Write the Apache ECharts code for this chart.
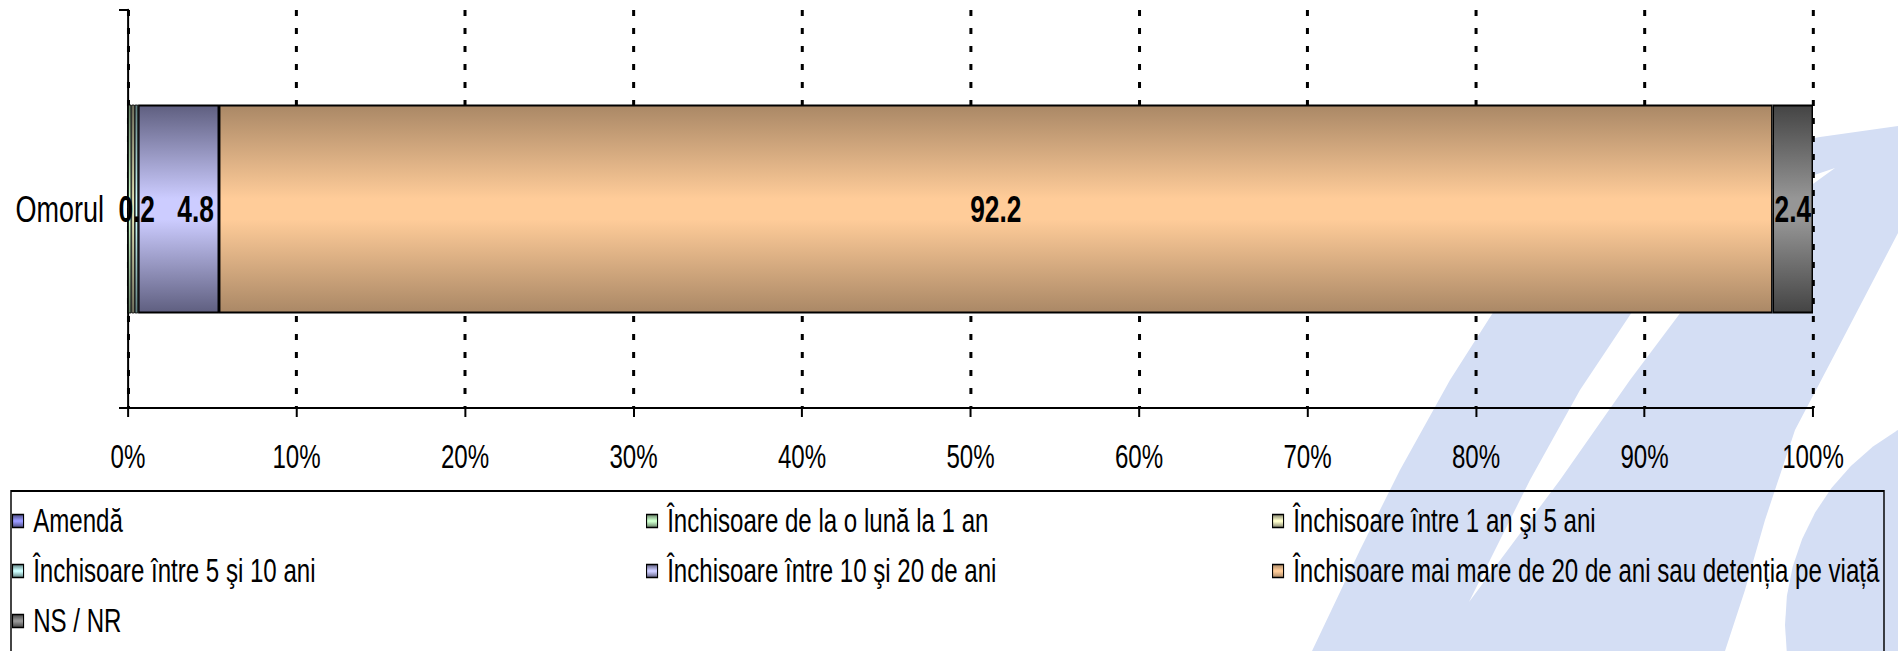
<!DOCTYPE html>
<html>
<head>
<meta charset="utf-8">
<script src="https://cdn.jsdelivr.net/npm/echarts@6/dist/echarts.min.js"></script>
<style>
  html, body { margin: 0; padding: 0; background: #fff; overflow: hidden; }
  #wrap { width: 1898px; height: 651px; overflow: hidden; }
  /* textul din original e ingustat (Arial Narrow) - desenam mai lat si comprimam pe orizontala */
  #chart { height: 651px; transform-origin: 0 0; }
</style>
</head>
<body>
<div id="wrap"><div id="chart"></div></div>
<script>
// date (procente)
const categories = ['Omorul'];
const seriesNames = [
  'Amendă',
  'Închisoare de la o lună la 1 an',
  'Închisoare între 1 an şi 5 ani',
  'Închisoare între 5 şi 10 ani',
  'Închisoare între 10 şi 20 de ani',
  'Închisoare mai mare de 20 de ani sau detenția pe viață',
  'NS / NR'
];
const amenda = [0];
const lunaLa1An = [0.2];
const intre1si5 = [0.2];
const intre5si10 = [0.2];
const intre10si20 = [4.8];
const peste20 = [92.2];
const nsNr = [2.4];
const xTicks = [0, 10, 20, 30, 40, 50, 60, 70, 80, 90, 100];

const FONT = "'Liberation Sans', Arial, sans-serif";
const S = 0.73;              // factor de ingustare
function X(x) { return x / S; }

const el = document.getElementById('chart');
el.style.width = Math.round(X(1898)) + 'px';
el.style.transform = 'scaleX(' + S + ')';

// culori: [margine, mijloc]
const shades = [
  ['#4c4c80', '#9999ff'],
  ['#668066', '#ccffcc'],
  ['#80806a', '#ffffcc'],
  ['#5f8080', '#ccffff'],
  ['#5f5f80', '#ccccff'],
  ['#aa8866', '#ffcc99'],
  ['#444444', '#969696']
];

function grad(c) {
  return new echarts.graphic.LinearGradient(0, 0, 0, 1, [
    {offset: 0, color: c[0]},
    {offset: 0.45, color: c[1]},
    {offset: 0.55, color: c[1]},
    {offset: 1, color: c[0]}
  ]);
}

const values = [amenda, lunaLa1An, intre1si5, intre5si10, intre10si20, peste20, nsNr];

const series = values.map(function (v, i) {
  const small = v[0] < 1;
  return {
    name: seriesNames[i],
    type: 'bar',
    stack: 'total',
    barWidth: '52.5%',
    data: v,
    itemStyle: {color: grad(shades[i]), borderColor: '#000', borderWidth: small ? 1 : 2},
    labelLayout: {hideOverlap: true, dx: i === 4 ? X(17) : (small ? X(7) : 0)},
    label: {
      show: true,
      position: 'inside',
      color: '#000',
      fontFamily: FONT,
      fontWeight: 'bold',
      fontSize: 36,
      formatter: function (p) { return p.value > 0 ? p.value.toFixed(1) : ''; }
    }
  };
});

const legendText = {fontFamily: FONT, fontSize: 33, color: '#000', lineHeight: 34, padding: [0, 0, 0, X(6)]};
function legendCol(names, left) {
  return {
    data: names,
    left: X(left),
    top: 504,
    padding: 0,
    orient: 'vertical',
    itemGap: 16,
    itemWidth: X(11),
    itemHeight: 13,
    icon: 'rect',
    selectedMode: false,
    itemStyle: {borderColor: '#000', borderWidth: 1.5},
    textStyle: legendText
  };
}

// fundal decorativ (logo), coordonate in pixeli ai imaginii finale
const wm = '#d4def4';
function pts(list) { return list.map(function (p) { return [X(p[0]), p[1]]; }); }
const bandOuter = [[1312,651],[1360,550],[1400,470],[1450,380],[1501,300],[1560,240],[1640,185],[1730,152],
                   [1820,137],[1898,126],[1898,233],[1837,350],[1795,430],[1765,520],[1745,590],[1725,651]];
const bandGap = [[1469,602],[1530,480],[1580,390],[1640,300],[1700,235],[1770,190],[1835,168],
                 [1770,215],[1690,300],[1630,380],[1560,480]];
const ring = [];
for (let k = 0; k < 48; k++) {
  const a = k / 48 * Math.PI * 2;
  ring.push([2010 + 225 * Math.cos(a), 625 + 225 * Math.sin(a)]);
}

const chart = echarts.init(el, null, {renderer: 'svg'});
chart.setOption({
  animation: false,
  backgroundColor: '#fff',
  grid: {left: X(128), right: X(85), top: 10, bottom: 243},
  graphic: [
    {type: 'polygon', z: -100, silent: true, shape: {points: pts(bandOuter)}, style: {fill: wm}},
    {type: 'polygon', z: -99, silent: true, shape: {points: pts(bandGap)}, style: {fill: '#fff'}},
    {type: 'polygon', z: -100, silent: true, shape: {points: pts(ring)}, style: {fill: wm}},
    // cadrul legendei
    {type: 'rect', z: 10, silent: true,
      shape: {x: X(11), y: 491, width: X(1873), height: 200},
      style: {fill: 'none', stroke: '#000', lineWidth: 2}}
  ],
  legend: [
    legendCol([seriesNames[0], seriesNames[3], seriesNames[6]], 12),
    legendCol([seriesNames[1], seriesNames[4]], 646),
    legendCol([seriesNames[2], seriesNames[5]], 1272)
  ],
  xAxis: {
    type: 'value',
    min: xTicks[0],
    max: xTicks[xTicks.length - 1],
    interval: 10,
    axisLine: {show: true, lineStyle: {color: '#000', width: 2}},
    axisTick: {show: true, length: 9, lineStyle: {color: '#000', width: X(2)}},
    axisLabel: {
      margin: 32,
      fontFamily: FONT,
      fontSize: 33,
      color: '#000',
      formatter: function (v) { return v + '%'; }
    },
    splitLine: {show: true, lineStyle: {color: '#000', width: X(3), type: [6, 12]}}
  },
  yAxis: {
    type: 'category',
    data: categories,
    axisLine: {show: true, lineStyle: {color: '#000', width: X(2)}},
    axisTick: {show: true, length: X(9), lineStyle: {color: '#000', width: 2}},
    axisLabel: {margin: X(24), fontFamily: FONT, fontSize: 37, color: '#000'}
  },
  series: series
});
</script>
</body>
</html>
